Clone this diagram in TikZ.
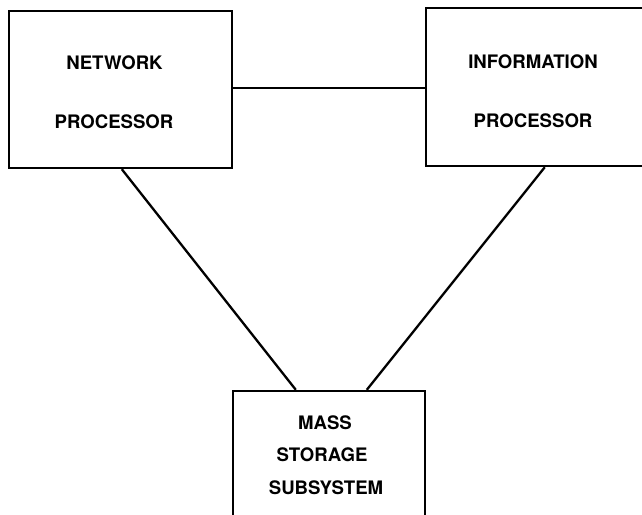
\documentclass[tikz,border=0pt]{standalone}
\usepackage{fontspec}
\setmainfont{TeX Gyre Heros}
\begin{document}
\begin{tikzpicture}[x=1pt,y=-1pt,
  blockbox/.style={draw=black,line width=2.4pt,rectangle,inner sep=0pt},
  lbl/.style={inner sep=0pt,font=\fontsize{18.6}{22}\selectfont\bfseries},
  conn/.style={draw=black,line width=2.3pt}]
\useasboundingbox (0,0) rectangle (642,514);
\clip (0,0) rectangle (642,514);
\fill[white] (0,0) rectangle (642,514);
\node[blockbox,minimum width=223pt,minimum height=157pt] (np) at (120.5,89.5) {};
\node[blockbox,minimum width=218pt,minimum height=158pt] (ip) at (535,87) {};
\node[blockbox,minimum width=192pt,minimum height=129pt] (ms) at (329,455.5) {};
\node[lbl] (t1) at (114.5,63) {NETWORK};
\node[lbl] (t2) at (114,122) {PROCESSOR};
\node[lbl] (t3) at (533,62) {INFORMATION};
\node[lbl] (t4) at (533,121) {PROCESSOR};
\node[lbl] (t5) at (325,423) {MASS};
\node[lbl] (t6) at (322,455) {STORAGE};
\node[lbl] (t7) at (326,488) {SUBSYSTEM};
\draw[conn] ([yshift=1.5pt]np.east) -- ([yshift=1.5pt]np.east -| ip.west);
\draw[conn] ([xshift=114pt]np.south west) -- ([xshift=64pt]ms.north west);
\draw[conn] ([xshift=120pt]ip.south west) -- ([xshift=135pt]ms.north west);
\end{tikzpicture}
\end{document}
